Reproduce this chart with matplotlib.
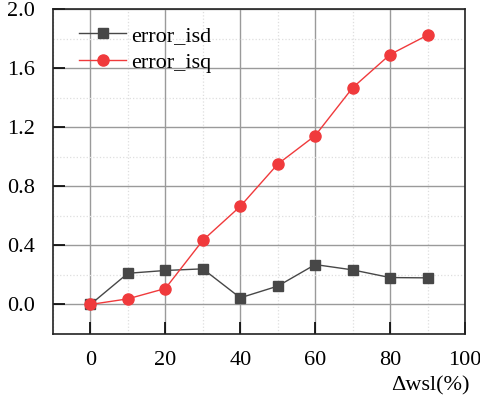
import matplotlib
matplotlib.use("Agg")
import matplotlib.pyplot as plt
from matplotlib.ticker import MultipleLocator

x = [0, 10, 20, 30, 40, 50, 60, 70, 80, 90]
error_isd = [0.0, 0.211, 0.230, 0.241, 0.045, 0.124, 0.270, 0.234, 0.182, 0.180]
error_isq = [0.0, 0.038, 0.108, 0.434, 0.664, 0.950, 1.143, 1.467, 1.692, 1.823]

plt.rcParams['font.family'] = ['Liberation Serif', 'DejaVu Serif']

fig = plt.figure(figsize=(4.8, 4.01), dpi=100)
ax = fig.add_axes([53/480, 1-334/401, (465-53)/480, (334-9)/401])

ax.plot(x, error_isd, color='#474747', marker='s', markersize=7.5, lw=1.0, label='error_isd', zorder=3)
ax.plot(x, error_isq, color='#f03a3c', marker='o', markersize=8.0, lw=1.0, label='error_isq', zorder=4)

ax.set_xlim(-10, 100)
ax.set_ylim(-0.2, 2.0)
ax.xaxis.set_major_locator(MultipleLocator(20))
ax.xaxis.set_minor_locator(MultipleLocator(10))
ax.yaxis.set_minor_locator(MultipleLocator(0.2))
ax.set_yticks([0.0, 0.4, 0.8, 1.2, 1.6, 2.0])
ax.set_yticklabels(['0.0', '0.4', '0.8', '1.2', '1.6', '2.0'])

ax.grid(which='major', color='#9a9a9a', lw=1.0, ls='-')
ax.grid(which='minor', color='#dedede', lw=0.9, ls=':')
ax.set_axisbelow(True)

ax.tick_params(which='major', direction='in', length=8.5, width=1.2, labelsize=16)
ax.tick_params(axis='x', pad=12)
ax.tick_params(axis='y', pad=13)
ax.tick_params(which='minor', length=0)
for s in ax.spines.values():
    s.set_linewidth(1.2)
    s.set_color('#222222')

ax.set_xlabel('Δwsl(%)', fontsize=16, ha='right')
ax.xaxis.set_label_coords(1.012, -0.129)

ax.legend(loc='upper left', frameon=False, fontsize=16, handlelength=2.1,
          borderaxespad=0.0, handletextpad=0.25, labelspacing=0.3,
          bbox_to_anchor=(0.042, 0.977))

fig.savefig('out.png', dpi=100)
